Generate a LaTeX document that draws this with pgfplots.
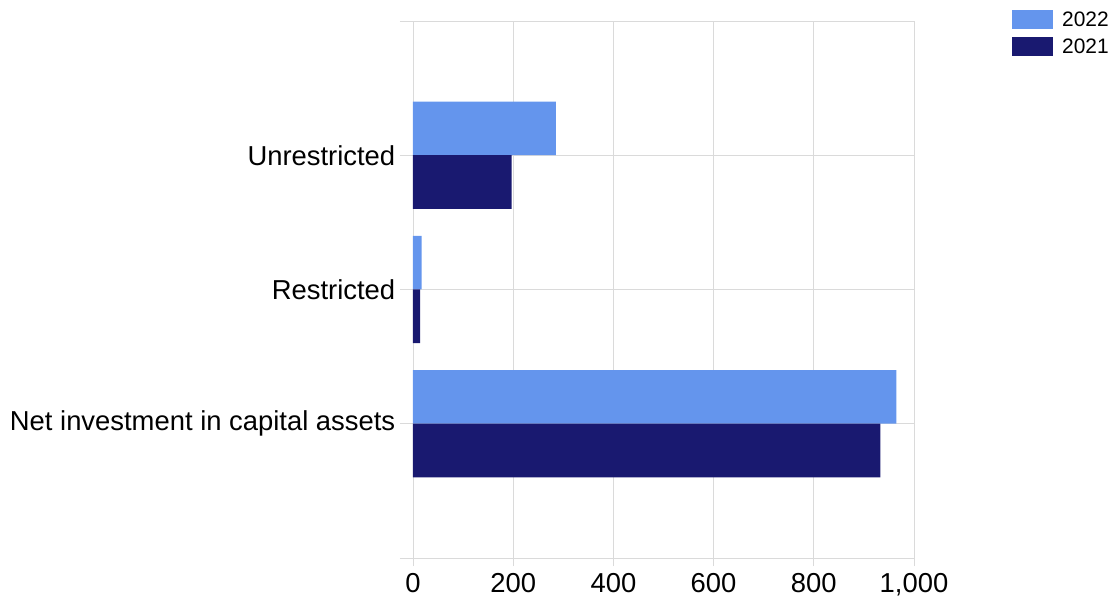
\documentclass[border=0pt]{standalone}
\usepackage{pgfplots}
\pgfplotsset{compat=1.18}
\usepackage{fontspec}
\setmainfont{Liberation Sans}
\definecolor{c2022}{HTML}{6495ED}
\definecolor{c2021}{HTML}{191970}
\definecolor{gridc}{HTML}{DADADA}
\begin{document}
\begin{tikzpicture}
\begin{axis}[
  at={(0,0)}, anchor=south west,
  scale only axis, width=501bp, height=537bp,
  xbar, bar width=0.4,
  xmin=0, xmax=1000, ymin=-1, ymax=3,
  xtick={0,200,400,600,800,1000},
  ytick={-1,0,1,2,3},
  yticklabels={,Net investment in capital assets,Restricted,Unrestricted,},
  /pgf/number format/assume math mode=true,
  /pgf/number format/.cd, 1000 sep={,}, /pgfplots/.cd,
  axis line style={draw=none},
  grid=major, major grid style={gridc, line width=0.8bp},
  tick align=outside, xtick pos=bottom, ytick pos=left,
  xtick style={gridc, line width=0.8bp, /pgfplots/major tick length=8bp},
  ytick style={gridc, line width=0.8bp, /pgfplots/major tick length=13bp},
  tick label style={font=\fontsize{27.5}{32}\selectfont, text=black},
  yticklabel style={xshift=-10bp},
  xticklabel style={yshift=-8bp},
  legend style={at={(rel axis cs:1.1956,1.0214)}, anchor=north west, draw=none,
    font=\fontsize{21}{24}\selectfont, row sep=7bp, inner sep=0pt,
    legend cell align=left},
  legend image code/.code={\fill[#1] (0bp,-9.5bp) rectangle (41bp,9.5bp);
    \path (48bp,0bp);},
]
\addplot[draw=none, fill=c2022, bar shift=0.2] coordinates {(965,0) (17,1) (285,2)};
\addlegendentry{2022}
\addplot[draw=none, fill=c2021, bar shift=-0.2] coordinates {(933,0) (14,1) (197,2)};
\addlegendentry{2021}
\end{axis}
\pgfresetboundingbox
\path[use as bounding box] (-413bp,-45bp) rectangle (704bp,558bp);
\end{tikzpicture}
\end{document}
